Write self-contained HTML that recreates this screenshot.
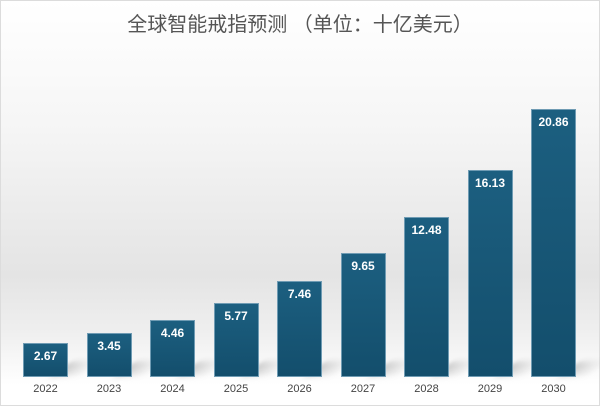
<!DOCTYPE html>
<html><head><meta charset="utf-8"><style>
html,body{margin:0;padding:0;}
body{width:600px;height:406px;overflow:hidden;position:relative;font-family:"Liberation Sans","Noto Sans CJK SC",sans-serif;}
#c{position:absolute;left:0;top:0;width:598px;height:404px;border:1px solid #dcdcdc;
background:linear-gradient(to bottom,#ffffff 0%,#f6f6f6 30%,#e4e4e4 68%,#efefef 82%,#ffffff 95%);}
.t{position:absolute;left:0;width:600px;top:8px;text-align:center;font-size:20px;color:#555;}
.b{position:absolute;width:45px;background:linear-gradient(to bottom,#1c5f80,#134e6c);border:1px solid #6f9bb3;box-sizing:border-box;}
.sh{position:absolute;height:14px;width:30px;background:linear-gradient(to right,rgba(110,110,110,0.35),rgba(150,150,150,0));transform:skewX(-50deg);filter:blur(3px);}
.v{position:absolute;width:45px;text-align:center;color:#fff;font-weight:bold;font-size:12px;}
.y{position:absolute;width:63px;text-align:center;color:#444;font-size:11px;top:383px;}
</style></head><body><div id="c"></div>
<div class="t">全球智能戒指预测 （单位：十亿美元）</div>
<div id="bars"></div>
<script>
var d=[2.67,3.45,4.46,5.77,7.46,9.65,12.48,16.13,20.86],yr=2022,h='';
for(var i=0;i<d.length;i++){var x=23+i*63.5,hh=Math.round(d[i]*12.85),tp=377-hh;
h+='<div class="sh" style="left:'+(x+38)+'px;top:362px"></div>';
h+='<div class="b" style="left:'+x+'px;top:'+tp+'px;height:'+hh+'px"></div>';
h+='<div class="v" style="left:'+x+'px;top:'+(tp+6)+'px">'+d[i].toFixed(2)+'</div>';
h+='<div class="y" style="left:'+(x-9)+'px">'+(yr+i)+'</div>';}
document.getElementById('bars').innerHTML=h;
</script></body></html>
